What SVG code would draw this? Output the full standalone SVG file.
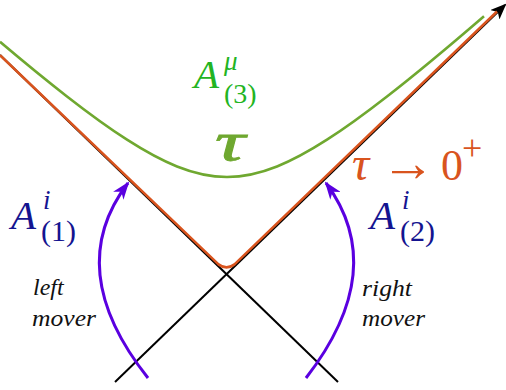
<svg xmlns="http://www.w3.org/2000/svg" width="506" height="390" viewBox="0 0 506 390">
  <style>
    .cone { fill: none; stroke: #000; stroke-width: 2; }
    .orange { fill: none; stroke: #d9541e; stroke-width: 2.6; stroke-linejoin: round; }
    .green { fill: none; stroke: #6fa830; stroke-width: 2.6; }
    .mover { fill: none; stroke: #5a00e0; stroke-width: 3; }
    .navy { fill: #141490; }
    .lime { fill: #22b422; }
    .org { fill: #d9541e; }
    .word { font-style: italic; font-size: 24px; fill: #111; }
  </style>
  <defs>
    <marker id="blackhead" viewBox="0 0 16 13" refX="14" refY="6.5" markerWidth="16" markerHeight="13" markerUnits="userSpaceOnUse" orient="auto">
      <path d="M0,0 L16,6.5 L0,13 L4,6.5 z" fill="#000"/>
    </marker>
    <marker id="purplehead" viewBox="0 0 18 13" refX="16" refY="6.5" markerWidth="18" markerHeight="13" markerUnits="userSpaceOnUse" orient="auto">
      <path d="M0,0 L18,6.5 L0,13 L5,6.5 z" fill="#5a00e0"/>
    </marker>
  </defs>

  <g id="connectors">
    <line id="cone-right" class="cone" x1="115" y1="382" x2="505" y2="5" marker-end="url(#blackhead)"/>
    <line id="cone-left" class="cone" x1="338" y1="382" x2="0" y2="55"/>
    <path id="hyperbola-tau0" class="orange" d="M0,55.3 L218.5,264.4 Q226.5,270.5 234.5,264.4 L497,11.5"/>
    <path id="hyperbola-tau" class="green" d="M0,41.8 C22.33,60.69 44.67,79.10 67,96.5 C87,112.08 107,126.86 127,139.7 C143.67,150.40 160.33,159.82 177,166.5 C193.67,173.18 210.33,177 227,177 C243.67,177 260.33,173.18 277,166.5 C293.67,159.82 310.33,150.40 327,139.7 C347,126.86 367,112.08 387,96.5 C419.33,71.31 451.67,44.10 484,16.2"/>
    <path id="left-mover-arrow" class="mover" d="M148,378 Q62,269.5 128,183" marker-end="url(#purplehead)"/>
    <path id="right-mover-arrow" class="mover" d="M306,378 Q390,269.5 326,183" marker-end="url(#purplehead)"/>
  </g>

  <g id="labels" font-family="'Liberation Serif', 'Times New Roman', serif">
    <g id="label-A3">
      <text class="lime" x="194" y="88" font-size="41" font-style="italic">A<tspan x="224" y="70" font-size="27">μ</tspan><tspan x="224" y="103" font-size="28" font-style="normal">(3)</tspan></text>
    </g>

    <g id="label-tau">
      <text x="215" y="160" font-size="54" font-style="italic" fill="#6fa830" stroke="#6fa830" stroke-width="0.8" textLength="30" lengthAdjust="spacingAndGlyphs">τ</text>
    </g>

    <g id="label-tau-limit">
      <text class="org" x="352" y="180" font-size="48" font-style="italic">τ<tspan x="381" y="181" font-size="54" font-style="normal">→</tspan><tspan x="441" y="180" font-size="44" font-style="normal">0</tspan><tspan x="462" y="160" font-size="36" font-style="normal">+</tspan></text>
    </g>

    <g id="label-A1">
      <text class="navy" x="11" y="229" font-size="41" font-style="italic">A<tspan x="43" y="209" font-size="27">i</tspan><tspan x="41" y="241" font-size="30" font-style="normal">(1)</tspan></text>
    </g>

    <g id="label-A2">
      <text class="navy" x="370" y="229" font-size="41" font-style="italic">A<tspan x="402" y="209" font-size="27">i</tspan><tspan x="400" y="241" font-size="30" font-style="normal">(2)</tspan></text>
    </g>

    <g id="label-left-mover">
      <text class="word" x="33" y="295">left</text>
      <text class="word" x="32" y="326" textLength="64" lengthAdjust="spacingAndGlyphs">mover</text>
    </g>

    <g id="label-right-mover">
      <text class="word" x="362" y="296" textLength="50" lengthAdjust="spacingAndGlyphs">right</text>
      <text class="word" x="362" y="326" textLength="63" lengthAdjust="spacingAndGlyphs">mover</text>
    </g>
  </g>
</svg>
